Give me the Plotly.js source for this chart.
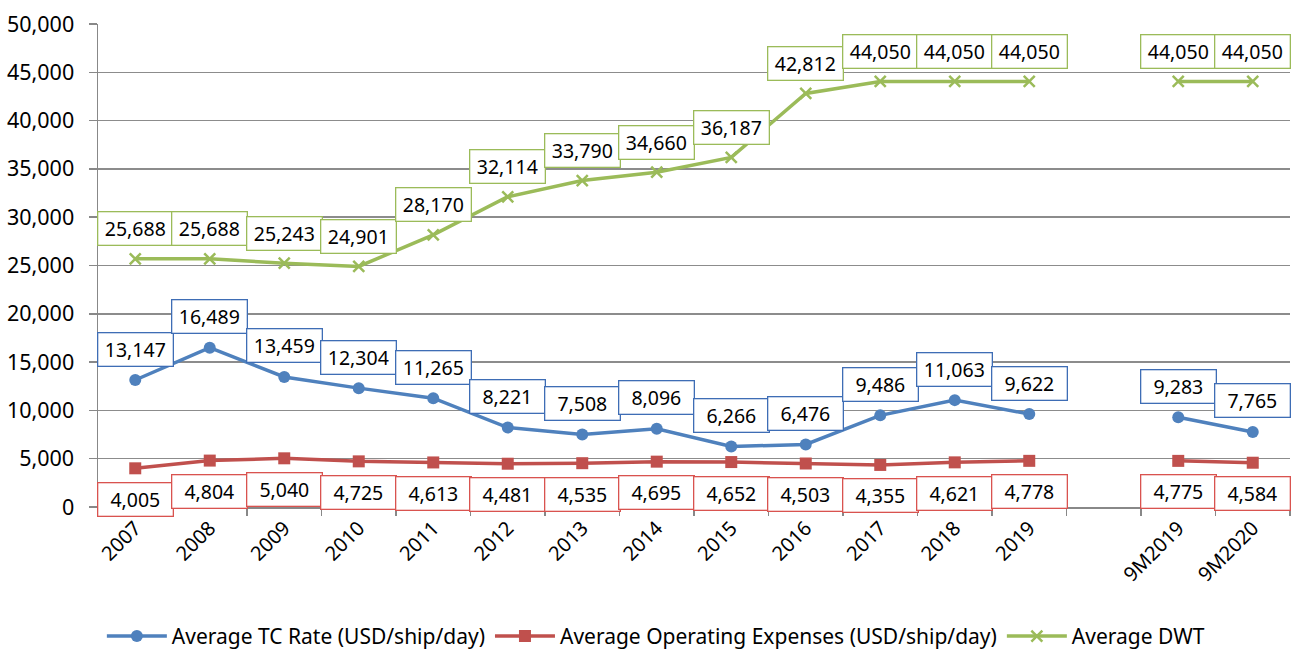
<!DOCTYPE html>
<html>
<head>
<meta charset="utf-8">
<script src="https://cdn.plot.ly/plotly-3.0.1.min.js"></script>
<style>html,body{margin:0;padding:0;background:#fff;}#chart{width:1293px;height:650px;}</style>
</head>
<body>
<div id="chart"></div>
<script>
const categories = ["2007","2008","2009","2010","2011","2012","2013","2014","2015","2016","2017","2018","2019"," ","9M2019","9M2020"];
const tcRate = [13147,16489,13459,12304,11265,8221,7508,8096,6266,6476,9486,11063,9622,null,9283,7765];
const opex = [4005,4804,5040,4725,4613,4481,4535,4695,4652,4503,4355,4621,4778,null,4775,4584];
const dwt = [25688,25688,25243,24901,28170,32114,33790,34660,36187,42812,44050,44050,44050,null,44050,44050];
const yTickVals = [0,5000,10000,15000,20000,25000,30000,35000,40000,45000,50000];

const FONT = "Noto Sans, Open Sans, sans-serif";
const cTC = "#4F81BD", cOP = "#C0504D", cDW = "#9BBB59";

const traces = [
  {name:"Average TC Rate (USD/ship/day)", x:categories, y:tcRate, type:"scatter", mode:"lines+markers",
   line:{color:cTC, width:3.5}, marker:{symbol:"circle", size:12, color:cTC}, hoverinfo:"skip"},
  {name:"Average Operating Expenses (USD/ship/day)", x:categories, y:opex, type:"scatter", mode:"lines+markers",
   line:{color:cOP, width:3.5}, marker:{symbol:"square", size:12, color:cOP}, hoverinfo:"skip"},
  {name:"Average DWT", x:categories, y:dwt, type:"scatter", mode:"lines+markers",
   line:{color:cDW, width:3.5}, marker:{symbol:"x-thin", size:11, color:cDW, line:{color:cDW, width:2.5}}, hoverinfo:"skip"}
];

const annotations = [];
function addLabels(vals, color, shift){
  vals.forEach((v,i)=>{
    if(v===null) return;
    annotations.push({x:i, y:v, xref:"x", yref:"y", text:v.toLocaleString("en-US"),
      showarrow:false, yshift:shift, width:70, height:28, borderpad:2, borderwidth:1.3,
      bordercolor:color, bgcolor:"#ffffff", font:{family:FONT, size:19.5, color:"#000"}});
  });
}
addLabels(opex, "#D9534F", -31);
addLabels(tcRate, "#3E6DB5", 31);
addLabels(dwt, cDW, 30);

const layout = {
  width:1293, height:650,
  margin:{l:98, r:3, t:24, b:143, autoexpand:false},
  paper_bgcolor:"#fff", plot_bgcolor:"#fff",
  font:{family:FONT, size:18, color:"#000"},
  showlegend:true,
  legend:{orientation:"h", x:0.468, xanchor:"center", yref:"paper", y:-0.268, yanchor:"middle",
          font:{family:FONT, size:21, color:"#000"}, itemwidth:60, traceorder:"normal"},
  xaxis:{type:"category", categoryorder:"array", categoryarray:categories, range:[-0.5,15.5], automargin:false,
         showgrid:false, showline:true, linecolor:"#888", linewidth:1.5,
         ticks:"outside", tickson:"boundaries", ticklen:7, tickcolor:"#888", tickwidth:1.5,
         tickangle:-45, tickfont:{family:FONT, size:20, color:"#000"}, zeroline:false, fixedrange:true},
  yaxis:{range:[0,50000], tickvals:yTickVals, tickformat:",d", showgrid:true, gridcolor:"#8c8c8c", gridwidth:1.5,
         automargin:false, showline:true, linecolor:"#888", linewidth:1.5, ticks:"outside", ticklen:8, tickcolor:"#888", tickwidth:1.5,
         ticklabelstandoff:10, zeroline:false, tickfont:{family:FONT, size:21.5, color:"#000"}, fixedrange:true},
  annotations:annotations
};

Plotly.newPlot("chart", traces, layout, {displayModeBar:false, staticPlot:true});
</script>
</body>
</html>
